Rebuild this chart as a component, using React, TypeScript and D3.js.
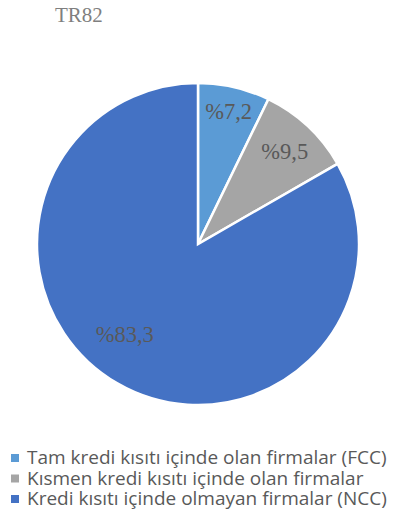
import React from "react";
import * as d3 from "d3";

const categories = [
  "Tam kredi kısıtı içinde olan firmalar (FCC)",
  "Kısmen kredi kısıtı içinde olan firmalar",
  "Kredi kısıtı içinde olmayan firmalar (NCC)",
];
const values = [7.2, 9.5, 83.3];
const labels = ["%7,2", "%9,5", "%83,3"];
const colors = ["#5B9BD5", "#A5A5A5", "#4472C4"];
const labelRadiusFrac = [0.85, 0.79, 0.72];
const labelAngleShift = [0, 0, 0.16];

export default function App() {
  const W = 393, H = 521;
  const cx = 198, cy = 244, r = 161;
  const pie = d3.pie<number>().sort(null).value((d) => d);
  const arcs = pie(values);
  const arc = d3.arc<d3.PieArcDatum<number>>().innerRadius(0).outerRadius(r);
  return (
    <svg width={W} height={H} style={{ position: "absolute", left: 0, top: 0 }}>
      <rect width={W} height={H} fill="#fff" />
      <text x={55} y={22} fontFamily="Liberation Serif, Times New Roman, serif" fontSize={21} fill="#7f7f7f">TR82</text>
      <g transform={`translate(${cx},${cy})`}>
        {arcs.map((a, i) => (
          <path key={i} d={arc(a) || ""} fill={colors[i]} stroke="#fff" strokeWidth={2.5} />
        ))}
        {arcs.map((a, i) => {
          const ang = (a.startAngle + a.endAngle) / 2 + labelAngleShift[i];
          const rr = r * labelRadiusFrac[i];
          const x = rr * Math.sin(ang);
          const y = -rr * Math.cos(ang);
          return (
            <text key={i} x={x} y={y} dy="0.35em" textAnchor="middle"
              fontFamily="Liberation Serif, Times New Roman, serif" fontSize={22.5} fill="#595959">
              {labels[i]}
            </text>
          );
        })}
      </g>
      {categories.map((c, i) => (
        <g key={i} transform={`translate(11, ${458 + i * 20.5})`}>
          <rect x={0} y={-4} width={8} height={8} fill={colors[i]} />
          <text x={16} y={6} fontFamily="Open Sans, sans-serif" fontSize={19} fill="#595959">{c}</text>
        </g>
      ))}
    </svg>
  );
}
